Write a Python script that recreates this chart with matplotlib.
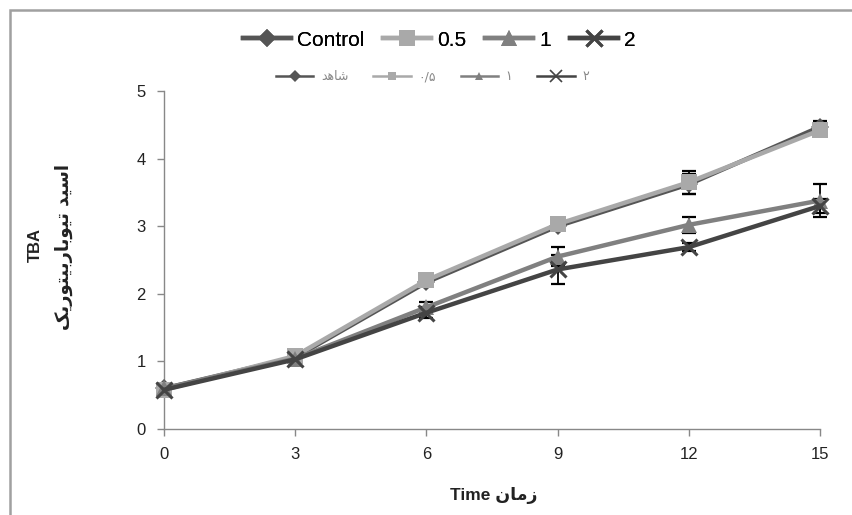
import matplotlib
matplotlib.use("Agg")
import matplotlib.pyplot as plt
from matplotlib.lines import Line2D
from matplotlib.patches import Rectangle

plt.rcParams['font.family'] = ['Liberation Sans', 'DejaVu Sans']

# ---- data ----
times = [0, 3, 6, 9, 12, 15]
series_names = ["Control", "0.5", "1", "2"]
# Persian legend labels (presentation forms, visual order)
series_names_fa = ["\uFEAA\uFEEB\uFE8E\uFEB7", "\u06F0/\u06F5", "\u06F1", "\u06F2"]
control = [0.60, 1.06, 2.17, 3.00, 3.62, 4.47]
half = [0.58, 1.08, 2.20, 3.03, 3.65, 4.42]
one = [0.60, 1.04, 1.80, 2.55, 3.02, 3.38]
two = [0.58, 1.03, 1.72, 2.36, 2.69, 3.30]
err_control = [0.02, 0.03, 0.05, 0.06, 0.15, 0.08]
err_half = [0.02, 0.03, 0.06, 0.08, 0.17, 0.06]
err_one = [0.02, 0.03, 0.08, 0.14, 0.12, 0.24]
err_two = [0.02, 0.03, 0.08, 0.22, 0.06, 0.10]
yticks = [0, 1, 2, 3, 4, 5]

values = [control, half, one, two]
errors = [err_control, err_half, err_one, err_two]
colors = ["#555555", "#a9a9a9", "#808080", "#444444"]
markers = ["D", "s", "^", "x"]
msizes = [9, 11, 11, 12]

fig = plt.figure(figsize=(8.53, 5.15), dpi=100)
ax = fig.add_axes([164 / 853, 0.167, (820 - 164) / 853, 0.6563])

handles = []
for v, e in zip(values, errors):
    ax.errorbar(times, v, yerr=e, fmt='none', ecolor='black', elinewidth=1.3,
                capsize=5, capthick=1.6, zorder=2, clip_on=False)
for v, c, m, ms, name in zip(values, colors, markers, msizes, series_names):
    kw = dict(markeredgewidth=2.2) if m == 'x' else dict(markeredgewidth=0)
    ln, = ax.plot(times, v, color=c, lw=3.2, marker=m, markersize=ms,
                  markerfacecolor=c, markeredgecolor=c, label=name, zorder=3,
                  clip_on=False, **kw)
    handles.append(ln)

ax.set_xlim(0, 15)
ax.set_ylim(0, 5)
ax.set_xticks(times)
ax.set_yticks(yticks)
for s in ['top', 'right']:
    ax.spines[s].set_visible(False)
for s in ['left', 'bottom']:
    ax.spines[s].set_color('#888888')
    ax.spines[s].set_linewidth(1.0)
ax.tick_params(axis='both', colors='#888888', labelcolor='#222222', labelsize=12,
               length=5, width=1.0, direction='out')
ax.tick_params(axis='x', pad=8)
ax.tick_params(axis='y', pad=8)

# Legend row 1
leg1 = fig.legend(handles=handles, labels=series_names, loc='center',
                  bbox_to_anchor=(0.515, 0.922), ncol=4, frameon=False,
                  fontsize=15, handlelength=2.3, columnspacing=0.9, handletextpad=0.3,
                  borderaxespad=0)
fig.add_artist(leg1)

# Legend row 2 (Persian)
handles2 = []
for c, m in zip(colors, markers):
    kw = dict(markeredgewidth=1.2) if m == 'x' else dict(markeredgewidth=0)
    handles2.append(Line2D([0], [0], color=c, lw=1.8, marker=m,
                           markersize=6 if m != 'x' else 8,
                           markerfacecolor=c, markeredgecolor=c, **kw))
leg2 = fig.legend(handles=handles2, labels=series_names_fa, loc='center',
                  bbox_to_anchor=(0.507, 0.851), ncol=4, frameon=False,
                  handlelength=3.0, columnspacing=2.0, handletextpad=0.6,
                  borderaxespad=0, prop={'family': 'DejaVu Sans', 'size': 9})
for t in leg2.get_texts():
    t.set_color('#888888')

# Axis labels
fig.text(35 / 853, 1 - 245 / 515, "TBA", rotation=90, ha='center', va='center',
         fontsize=12, fontweight='bold', color='#222222')
ylab_fa = ("\uFB8F\uFEF3\uFEAD\uFEEE\uFE98\uFEF4\uFE91\uFEAD\uFE8E\uFE91\uFEEE\uFEF4\uFE97"
           " \uFEAA\uFEF4\uFEB3\uFE8D")
fig.text(64 / 853, 1 - 247 / 515, ylab_fa, rotation=90, ha='center', va='center',
         fontsize=13, fontweight='bold', color='#222222', family='DejaVu Sans')
fig.text(494 / 853, 1 - 495 / 515, "Time " + "\uFEE5\uFE8E\uFEE3\uFEAF",
         ha='center', va='center', fontsize=12.5, fontweight='bold', color='#222222')

# outer frame
fig.add_artist(Rectangle((10 / 853, -0.02), 1.2, 1 - 10 / 515 + 0.02,
                         transform=fig.transFigure, fill=False,
                         edgecolor='#a0a0a0', lw=1.8))

fig.savefig("out.png", dpi=100)
